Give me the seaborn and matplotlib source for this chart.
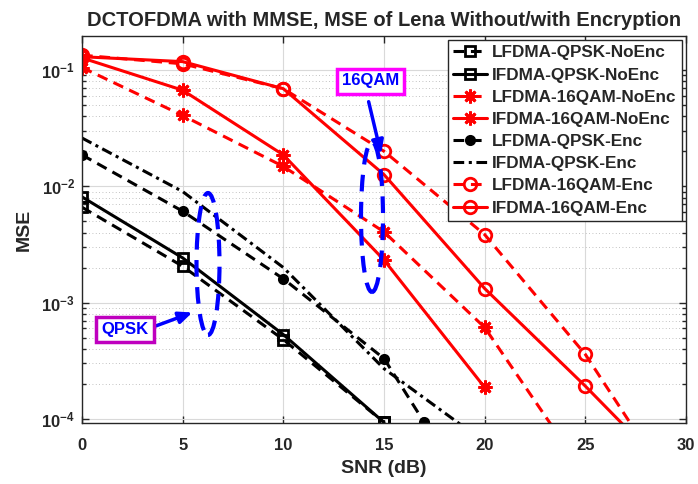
import numpy as np
import pandas as pd
import matplotlib
matplotlib.use("Agg")
import matplotlib.pyplot as plt
from matplotlib.patches import Ellipse
import seaborn as sns

# MSE values
snr_qpsk_noenc = [0, 5, 10, 15]
lf_qpsk_noenc = [6.6e-3, 2.05e-3, 4.8e-4, 9.3e-5]
if_qpsk_noenc = [8.1e-3, 2.42e-3, 5.3e-4, 9.3e-5]

snr_lf_16qam_noenc = [0, 5, 10, 15, 20, 25]
lf_16qam_noenc = [0.105, 0.0406, 0.0148, 4.05e-3, 6.1e-4, 3.3e-5]
snr_if_16qam_noenc = [0, 5, 10, 15, 20]
if_16qam_noenc = [0.127, 0.067, 0.0186, 2.32e-3, 1.86e-4]

snr_lf_qpsk_enc = [0, 5, 10, 15, 17]
lf_qpsk_enc = [1.86e-2, 6.1e-3, 1.6e-3, 3.3e-4, 9.3e-5]
snr_if_qpsk_enc = [0, 5, 10, 15, 20]
if_qpsk_enc = [2.6e-2, 9.0e-3, 2.0e-3, 2.7e-4, 6.3e-5]

snr_16qam_enc = [0, 5, 10, 15, 20, 25, 30]
lf_16qam_enc = [0.134, 0.113, 0.069, 0.020, 3.84e-3, 3.58e-4, 1.7e-5]
if_16qam_enc = [0.130, 0.118, 0.069, 0.0126, 1.32e-3, 1.91e-4, 2.5e-5]

sns.set_style("ticks")
plt.rcParams['font.family'] = ['Liberation Sans', 'DejaVu Sans']
plt.rcParams['font.weight'] = 'bold'

fig = plt.figure(figsize=(6.98, 4.84), dpi=100)
ax = fig.add_axes([82 / 698, 1 - 423 / 484, 604 / 698, 387 / 484])

dash = (3.5, 2.2)
dashdot = (3.5, 1.5, 1, 1.5)
star = (8, 2, 0)

series = [
    (snr_qpsk_noenc, lf_qpsk_noenc, "LFDMA-QPSK-NoEnc", "black", dash, "s", "none", 7),
    (snr_qpsk_noenc, if_qpsk_noenc, "IFDMA-QPSK-NoEnc", "black", None, "s", "none", 7),
    (snr_lf_16qam_noenc, lf_16qam_noenc, "LFDMA-16QAM-NoEnc", "red", dash, star, "red", 10),
    (snr_if_16qam_noenc, if_16qam_noenc, "IFDMA-16QAM-NoEnc", "red", None, star, "red", 10),
    (snr_lf_qpsk_enc, lf_qpsk_enc, "LFDMA-QPSK-Enc", "black", dash, "o", "black", 6),
    (snr_if_qpsk_enc, if_qpsk_enc, "IFDMA-QPSK-Enc", "black", dashdot, None, "none", 0),
    (snr_16qam_enc, lf_16qam_enc, "LFDMA-16QAM-Enc", "red", dash, "o", "none", 9),
    (snr_16qam_enc, if_16qam_enc, "IFDMA-16QAM-Enc", "red", None, "o", "none", 9),
]

for x, y, name, col, ls, mk, mfc, ms in series:
    df = pd.DataFrame({"SNR": x, "MSE": y})
    kw = dict(color=col, lw=2.2, label=name, ax=ax)
    if mk is not None:
        kw.update(marker=mk, markersize=ms, markerfacecolor=mfc,
                  markeredgecolor=col, markeredgewidth=2)
    n0 = len(ax.lines)
    sns.lineplot(data=df, x="SNR", y="MSE", **kw)
    if ls is not None:
        ax.lines[n0].set_dashes(ls)

ax.set_yscale("log")
ax.set_xlim(0, 30)
ax.set_ylim(9.2e-5, 0.196)
ax.set_xticks(np.arange(0, 31, 5))
ax.grid(True, which="major", color="#d9d9d9", lw=0.8)
ax.grid(True, which="minor", axis="y", color="#b0b0b0", lw=0.6, ls=(0, (1, 3)))
ax.tick_params(which="both", direction="in", top=True, right=True, labelsize=12, width=1)
ax.tick_params(which="major", length=5)
ax.tick_params(which="minor", length=3)
ax.tick_params(axis="x", pad=11)
ax.tick_params(axis="y", pad=5)
for s in ax.spines.values():
    s.set_linewidth(1)
    s.set_color("#262626")
for lab in ax.get_xticklabels() + ax.get_yticklabels():
    lab.set_fontweight("bold")

ax.set_xlabel("SNR (dB)", fontsize=14, fontweight="bold", labelpad=5)
ax.set_ylabel("MSE", fontsize=14, fontweight="bold", labelpad=6)
ax.set_title("DCTOFDMA with MMSE, MSE of Lena Without/with Encryption",
             fontsize=14.5, fontweight="bold", pad=7)

leg = ax.legend(loc="upper right", fontsize=12.3, frameon=True, fancybox=False,
                handlelength=2.0, borderpad=0.3, labelspacing=0.42,
                handletextpad=0.3, borderaxespad=0.25)
leg.get_frame().set_edgecolor("#262626")
leg.get_frame().set_linewidth(1)
leg.get_frame().set_alpha(1)
for t in leg.get_texts():
    t.set_fontweight("bold")

# annotations (figure pixel positions)
W, H = 698, 484
def fp(x, y):
    return (x / W, 1 - y / H)

for cx, cy, w, h in [(372, 217, 22, 150), (208, 264, 23, 142)]:
    e = Ellipse(fp(cx, cy), w / W, h / H, transform=fig.transFigure,
                fill=False, edgecolor="blue", lw=3, ls=(0, (4, 2.5)))
    fig.patches.append(e)

fig.text(*fp(370.5, 81), "16QAM", color="blue", fontsize=12, fontweight="bold",
         ha="center", va="center",
         bbox=dict(boxstyle="square,pad=0.3", fc="white", ec="#ff00ff", lw=2.5))
fig.text(*fp(125, 329.5), "QPSK", color="blue", fontsize=12, fontweight="bold",
         ha="center", va="center",
         bbox=dict(boxstyle="square,pad=0.3", fc="white", ec="#bf00bf", lw=2.5))

ax.annotate("", xy=fp(381.7, 156.7), xytext=fp(368, 99), xycoords="figure fraction",
            textcoords="figure fraction",
            arrowprops=dict(arrowstyle="-|>,head_length=0.8,head_width=0.35",
                            color="blue", lw=2.5))
ax.annotate("", xy=fp(195, 311.5), xytext=fp(153, 327), xycoords="figure fraction",
            textcoords="figure fraction",
            arrowprops=dict(arrowstyle="-|>,head_length=0.8,head_width=0.35",
                            color="blue", lw=2.5))

fig.savefig("out.png", dpi=100)
